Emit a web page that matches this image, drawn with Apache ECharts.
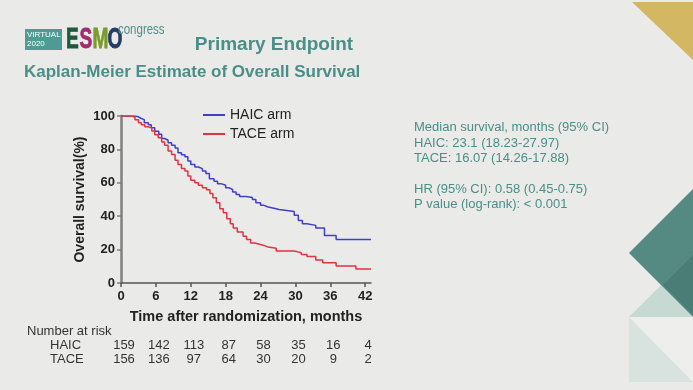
<!DOCTYPE html>
<html>
<head>
<meta charset="utf-8">
<script src="https://cdn.jsdelivr.net/npm/echarts@6/dist/echarts.min.js"></script>
<style>
html,body{margin:0;padding:0;background:#eaeae8;}
#c{width:693px;height:390px;}
</style>
</head>
<body>
<div id="c"></div>
<script>
// ---- data ----
var haicTimes = [0, 2.4, 3, 3.5, 4, 4.7, 5.2, 5.8, 6.5, 7, 7.5, 8.1, 8.7, 9.3, 9.8, 10.4, 11, 11.5, 12, 12.7, 13.3, 14, 14.6, 15.2, 16, 16.6, 17.2, 18, 18.6, 19.2, 19.8, 20.4, 21.5, 22.6, 23.2, 24, 24.6, 25.3, 26.3, 27.2, 28.5, 29.8, 30.5, 31.2, 32, 33.5, 35, 37, 43];
var haicSurv  = [100, 99.5, 98.5, 97.8, 96, 94.8, 93, 90.8, 89, 86.5, 85.5, 84, 82.5, 80.8, 78, 76.8, 75.6, 73, 71, 69.5, 68.5, 67, 65.5, 62.5, 61, 59.5, 58.5, 57, 56, 54.5, 53, 51.8, 51.2, 50, 48, 46.5, 45.5, 44.8, 44, 43.4, 42.8, 40.5, 37.5, 35.5, 34.5, 33, 28.4, 26, 26];
var taceTimes = [0, 1.8, 2.4, 3, 3.5, 4.1, 4.7, 5.3, 5.8, 6.4, 7, 7.5, 8.1, 8.7, 9.3, 9.8, 10.4, 11, 11.5, 12, 12.7, 13.3, 14, 14.7, 15.3, 15.8, 16.4, 17, 17.6, 18.2, 18.8, 19.3, 20, 21, 21.6, 22.3, 23, 24, 24.6, 25.3, 26.7, 29.8, 31, 32, 33.5, 34.7, 37, 40.4, 43];
var taceSurv  = [100, 99.4, 97.8, 96, 94.8, 93.5, 92.8, 91, 88.8, 87, 84.5, 82.5, 79, 77, 73.5, 71, 68.5, 67, 64, 61.6, 60, 58.5, 57, 55.8, 53.6, 51, 48, 44.5, 42, 38.5, 35.5, 33, 30.5, 28, 26, 24, 23, 22.5, 21.5, 20.8, 19.2, 18.2, 17, 15.8, 13.8, 12.2, 10.2, 8.4, 8.4];
var xTicks = [0, 6, 12, 18, 24, 30, 36, 42];
var riskHAIC = [159, 142, 113, 87, 58, 35, 16, 4];
var riskTACE = [156, 136, 97, 64, 30, 20, 9, 2];
var seriesNames = ['HAIC arm', 'TACE arm'];
var infoLines = ['Median survival, months (95% CI)', 'HAIC: 23.1 (18.23-27.97)', 'TACE: 16.07 (14.26-17.88)', '', 'HR (95% CI): 0.58 (0.45-0.75)', 'P value (log-rank): < 0.001'];

function pairs(t, s) { return t.map(function (v, i) { return [v, s[i]]; }); }

var FONT = 'Liberation Sans, Arial, sans-serif';
var TEAL = '#4a8f87';
var chart = echarts.init(document.getElementById('c'), null, {renderer: 'canvas'});

var option = {
  backgroundColor: '#eaeae8',
  animation: false,
  textStyle: {fontFamily: FONT},
  grid: {left: 121, right: 322, top: 116, bottom: 107},
  legend: {
    left: 198, top: 103, orient: 'vertical', itemGap: 5,
    itemWidth: 22, itemHeight: 12, icon: 'path://M0,5 L22,5 L22,7 L0,7 Z',
    textStyle: {fontSize: 14, color: '#222', fontFamily: FONT},
    data: seriesNames
  },
  xAxis: {
    type: 'value', min: 0, max: 43,
    name: 'Time after randomization, months', nameLocation: 'middle', nameGap: 26,
    nameTextStyle: {fontSize: 14.5, fontWeight: 'bold', color: '#222', fontFamily: FONT},
    axisLine: {lineStyle: {color: '#555', width: 1.5}},
    axisTick: {show: true, length: 4, customValues: xTicks, lineStyle: {color: '#555', width: 1.5}},
    axisLabel: {customValues: xTicks, fontSize: 13, fontWeight: 'bold', color: '#222', margin: 7, fontFamily: FONT},
    splitLine: {show: false}
  },
  yAxis: {
    type: 'value', min: 0, max: 100, interval: 20,
    name: 'Overall survival(%)', nameLocation: 'middle', nameGap: 34,
    nameTextStyle: {fontSize: 14, fontWeight: 'bold', color: '#222', fontFamily: FONT},
    axisLine: {show: true, lineStyle: {color: '#808080', width: 2.5}},
    axisTick: {show: true, length: 4, lineStyle: {color: '#808080', width: 1.5}},
    axisLabel: {fontSize: 13, fontWeight: 'bold', color: '#222', margin: 6, fontFamily: FONT},
    splitLine: {show: false}
  },
  series: [
    {name: seriesNames[0], type: 'line', step: 'end', symbol: 'none', color: '#4040c4',
     lineStyle: {width: 1.5, color: '#4040c4'}, data: pairs(haicTimes, haicSurv)},
    {name: seriesNames[1], type: 'line', step: 'end', symbol: 'none', color: '#e03344',
     lineStyle: {width: 1.5, color: '#e03344'}, data: pairs(taceTimes, taceSurv)}
  ]
};
chart.setOption(option);

var g = [];
// decorative shapes (right)
function poly(pts, fill) { g.push({type: 'polygon', silent: true, shape: {points: pts}, style: {fill: fill}}); }
poly([[632, 2], [693, 2], [693, 60]], '#d3b762');
poly([[629, 317], [693, 317], [693, 382], [629, 382]], '#eeefed');
poly([[629, 317], [629, 382], [693, 382]], '#d8e3df');
poly([[629, 317], [661, 285], [693, 317]], '#c6d9d3');
poly([[629, 253], [693, 189], [693, 317]], '#558a83');
poly([[663, 285], [693, 255], [693, 315]], '#4a7d76');

// logo
g.push({type: 'rect', shape: {x: 25, y: 29, width: 37, height: 21}, style: {fill: '#4f9a93'}});
g.push({type: 'text', x: 27, y: 30.5, style: {text: 'VIRTUAL', fill: '#fff', font: '8px ' + FONT}});
g.push({type: 'text', x: 27, y: 40, style: {text: '2020', fill: '#fff', font: '8px ' + FONT}});
var letters = [['E', 66, '#1f5a3c'], ['S', 79.5, '#a02b6e'], ['M', 92.5, '#7b9c2b'], ['O', 107.5, '#243b63']];
letters.forEach(function (l) {
  g.push({type: 'text', x: l[1], y: 25.5, scaleX: 0.66, style: {text: l[0], fill: l[2], font: 'bold 29px ' + FONT, stroke: l[2], lineWidth: 0.8}});
});
g.push({type: 'text', x: 118, y: 23, scaleX: 0.82, style: {text: 'congress', fill: '#4f8f88', font: '14px ' + FONT}});

// titles
g.push({type: 'text', x: 274, y: 45, style: {text: 'Primary Endpoint', fill: TEAL, font: 'bold 19px ' + FONT, textAlign: 'center', textVerticalAlign: 'middle'}});
g.push({type: 'text', x: 24, y: 72, style: {text: 'Kaplan-Meier Estimate of Overall Survival', fill: TEAL, font: 'bold 17px ' + FONT, textVerticalAlign: 'middle'}});

// info text
var iy = [127, 143, 158, 173, 189, 204];
infoLines.forEach(function (t, i) {
  if (t) g.push({type: 'text', x: 414, y: iy[i], style: {text: t, fill: TEAL, font: '13px ' + FONT, textVerticalAlign: 'middle'}});
});

// risk table
var RC = '#333';
g.push({type: 'text', x: 27, y: 331, style: {text: 'Number at risk', fill: RC, font: '13px ' + FONT, textVerticalAlign: 'middle'}});
g.push({type: 'text', x: 50, y: 345, style: {text: 'HAIC', fill: RC, font: '13px ' + FONT, textVerticalAlign: 'middle'}});
g.push({type: 'text', x: 50, y: 359, style: {text: 'TACE', fill: RC, font: '13px ' + FONT, textVerticalAlign: 'middle'}});
xTicks.forEach(function (t, i) {
  var px = chart.convertToPixel({xAxisIndex: 0}, t) + 3;
  g.push({type: 'text', x: px, y: 345, style: {text: String(riskHAIC[i]), fill: RC, font: '13px ' + FONT, textAlign: 'center', textVerticalAlign: 'middle'}});
  g.push({type: 'text', x: px, y: 359, style: {text: String(riskTACE[i]), fill: RC, font: '13px ' + FONT, textAlign: 'center', textVerticalAlign: 'middle'}});
});

chart.setOption({graphic: g});
</script>
</body>
</html>
